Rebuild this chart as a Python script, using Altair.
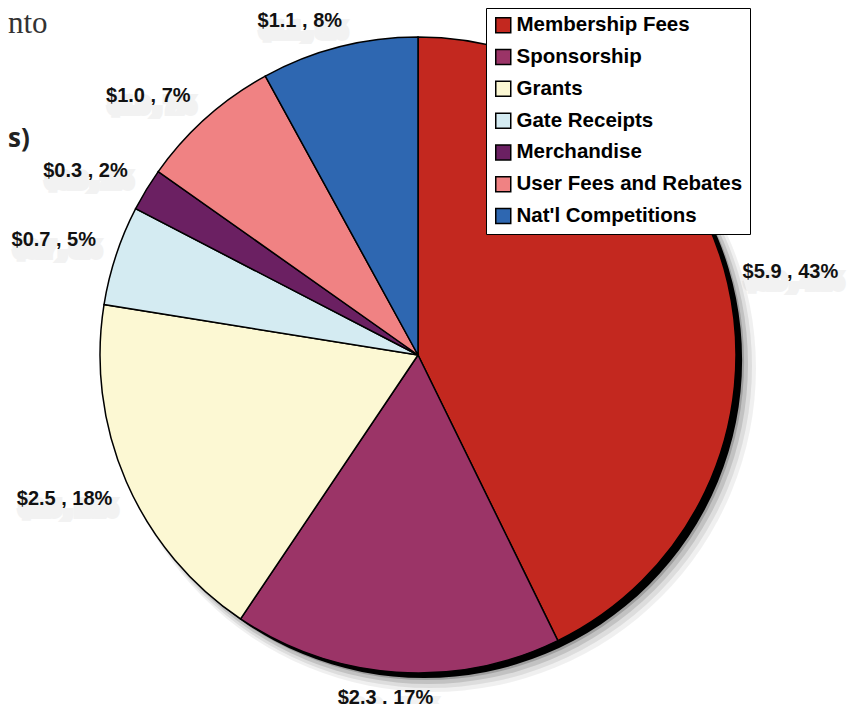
import altair as alt
import pandas as pd
import numpy as np

categories = ["Membership Fees", "Sponsorship", "Grants", "Gate Receipts",
              "Merchandise", "User Fees and Rebates", "Nat'l Competitions"]
values = [5.9, 2.3, 2.5, 0.7, 0.3, 1.0, 1.1]
colors = ["#C3281F", "#9B3467", "#FCF8D3", "#D4EBF2", "#6B2062", "#F08283", "#2E67B1"]

W, H = 843, 696
CX, CY, R = 410, 347, 318

vals = np.array(values)
total = vals.sum()
cum = np.cumsum(vals)
mid = (cum - vals / 2) / total * 2 * np.pi
s, c = np.sin(mid), np.cos(mid)
ax = CX + (R + 15) * s
ay = CY - (R + 15) * c
lx = ax + 48 * np.clip(3 * s, -1, 1)
ly = ay - 11 * np.clip(3 * c, -1, 1)
labels = [f"${v:.1f} , {round(v / total * 100)}%" for v in values]

df = pd.DataFrame({"category": categories, "value": values,
                   "idx": list(range(len(values))), "label": labels,
                   "lx": lx, "ly": ly})

one = alt.Chart(pd.DataFrame({"k": [0]}))

shadows = []
for dx, dy, dr, op in [(14, 13, 6, 0.06), (12, 11, 4, 0.08),
                       (10, 9, 2, 0.12), (8, 7, 0, 0.18), (6, 5, 0, 1.0)]:
    shadows.append(one.mark_arc(theta=0, theta2=2 * np.pi, outerRadius=R + dr,
                                color="black", opacity=op).encode(
        x=alt.value(CX + dx), y=alt.value(CY + dy)))

base = alt.Chart(df)
pie = base.mark_arc(outerRadius=R, stroke="black", strokeWidth=1.5).encode(
    theta=alt.Theta("value:Q", stack=True),
    order=alt.Order("idx:Q"),
    color=alt.Color("category:N",
                    scale=alt.Scale(domain=categories, range=colors),
                    legend=alt.Legend(orient="none", legendX=478, legendY=0,
                                      title=None, fillColor="white",
                                      strokeColor="black", padding=7,
                                      symbolType="square", symbolSize=225,
                                      symbolStrokeColor="black",
                                      symbolStrokeWidth=1.5, symbolOpacity=1,
                                      labelFont="Liberation Sans",
                                      labelFontWeight="bold", labelFontSize=20.5,
                                      labelColor="black", rowPadding=9.8,
                                      labelOffset=3, labelLimit=400)),
    x=alt.value(CX), y=alt.value(CY))

text_shadow = base.mark_text(font="Liberation Sans", fontSize=20, fontWeight="bold",
                             color="#888", stroke="#888", strokeWidth=8,
                             opacity=0.1, dx=4, dy=10).encode(
    x=alt.X("lx:Q", scale=None, axis=None),
    y=alt.Y("ly:Q", scale=None, axis=None),
    text="label:N")

text = base.mark_text(font="Liberation Sans", fontSize=20, fontWeight="bold",
                      color="#111").encode(
    x=alt.X("lx:Q", scale=None, axis=None),
    y=alt.Y("ly:Q", scale=None, axis=None),
    text="label:N")

frag1 = one.mark_text(text="nto", font="Liberation Serif", fontSize=31,
                      color="#333", align="left", baseline="alphabetic").encode(
    x=alt.value(0), y=alt.value(25))
frag2 = one.mark_text(text="s)", font="Open Sans", fontSize=26, fontWeight="bold",
                      color="#222", align="left", baseline="alphabetic").encode(
    x=alt.value(0), y=alt.value(139))

chart = alt.layer(*shadows, pie, text_shadow, text, frag1, frag2).properties(
    width=W, height=H, padding=0, autosize=alt.AutoSizeParams(type="none"),
    background="white"
).configure_view(stroke=None)

chart.save("out.html", embed_options={"renderer": "svg", "actions": False})
